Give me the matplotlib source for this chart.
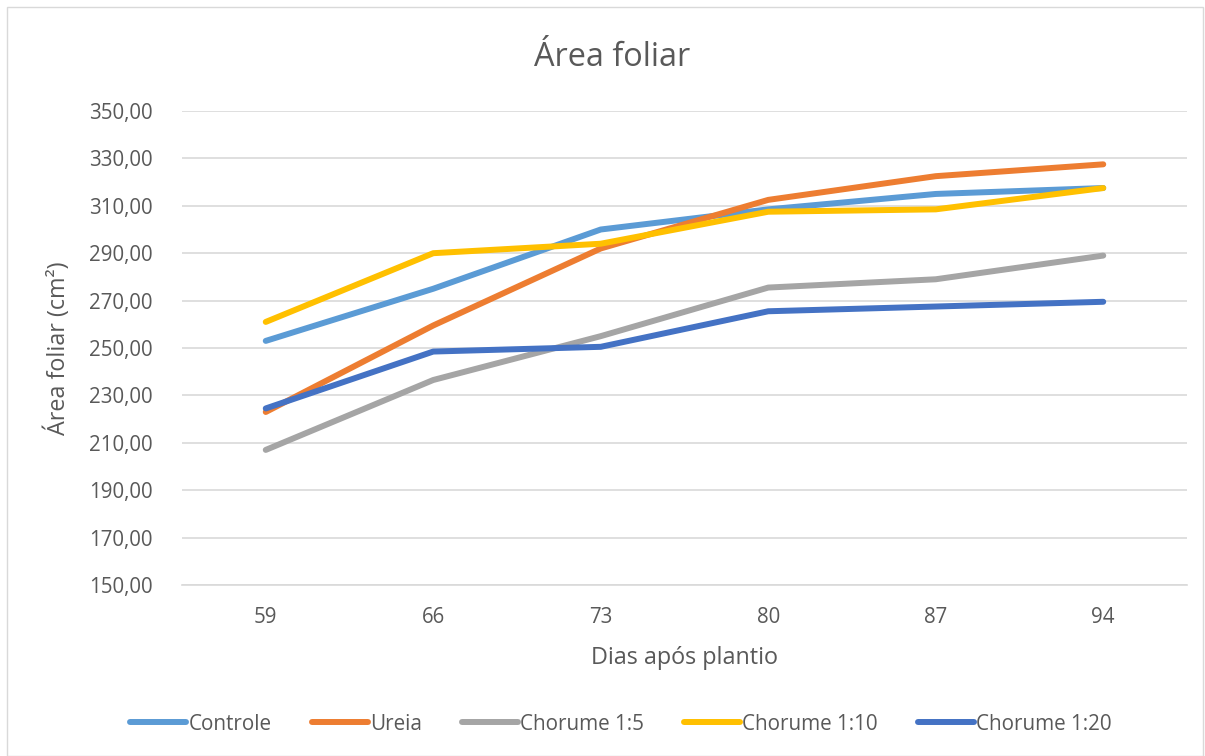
import matplotlib.pyplot as plt
from matplotlib.patches import Rectangle

plt.rcParams['font.family'] = ['Open Sans', 'DejaVu Sans']

# Dados de área foliar por tratamento
dias = ['59', '66', '73', '80', '87', '94']
controle = [253.0, 275.0, 300.0, 308.5, 315.0, 317.5]
ureia = [223.0, 259.5, 292.0, 312.5, 322.5, 327.5]
chorume_1_5 = [207.0, 236.5, 255.0, 275.5, 279.0, 289.0]
chorume_1_10 = [261.0, 290.0, 294.0, 307.5, 308.5, 317.5]
chorume_1_20 = [224.5, 248.5, 250.5, 265.5, 267.5, 269.5]

series = [
    ('Controle', controle, '#5B9BD5'),
    ('Ureia', ureia, '#ED7D31'),
    ('Chorume 1:5', chorume_1_5, '#A5A5A5'),
    ('Chorume 1:10', chorume_1_10, '#FFC000'),
    ('Chorume 1:20', chorume_1_20, '#4472C4'),
]

cinza = '#595959'

fig = plt.figure(figsize=(12.05, 7.56), dpi=100)
ax = fig.add_axes([182 / 1205, 1 - 585 / 756, (1187 - 182) / 1205, (585 - 111) / 756])

x = range(len(dias))
for nome, valores, cor in series:
    ax.plot(x, valores, color=cor, lw=4.3, label=nome,
            solid_capstyle='round', solid_joinstyle='round')

ax.set_xlim(-0.5, len(dias) - 0.5)
ax.set_ylim(150, 350)
ax.set_xticks(list(x))
ax.set_xticklabels(dias)
yt = list(range(150, 351, 20))
ax.set_yticks(yt)
ax.set_yticklabels([f'{v:.2f}'.replace('.', ',') for v in yt])
ax.tick_params(length=0, labelsize=14.8, colors=cinza)
ax.tick_params(axis='y', pad=21)
ax.tick_params(axis='x', pad=16)
ax.grid(axis='y', color='#D9D9D9', lw=1.2)
ax.set_axisbelow(True)
for s in ['top', 'right', 'left']:
    ax.spines[s].set_visible(False)
ax.spines['bottom'].set_color('#D9D9D9')
ax.spines['bottom'].set_linewidth(1.2)

ax.set_xlabel('Dias após plantio', fontsize=16.8, color=cinza, labelpad=13)
ax.set_ylabel('Área foliar (cm²)', fontsize=16.8, color=cinza, labelpad=13)
fig.text(612 / 1205, 1 - 57 / 756, 'Área foliar', fontsize=23.4, color=cinza,
         ha='center', va='center')

fig.legend(loc='center', bbox_to_anchor=(621 / 1205, 1 - 724 / 756), ncol=5,
           frameon=False, fontsize=14.9, labelcolor=cinza, handlelength=2.7,
           handletextpad=0.1, columnspacing=1.95)

# Borda da área do gráfico
fig.patches.append(Rectangle((7 / 1205, 0), 1196 / 1205, 1 - 7 / 756,
                             transform=fig.transFigure, fill=False,
                             edgecolor='#D9D9D9', lw=1.0))

fig.savefig('out.png', dpi=100)
